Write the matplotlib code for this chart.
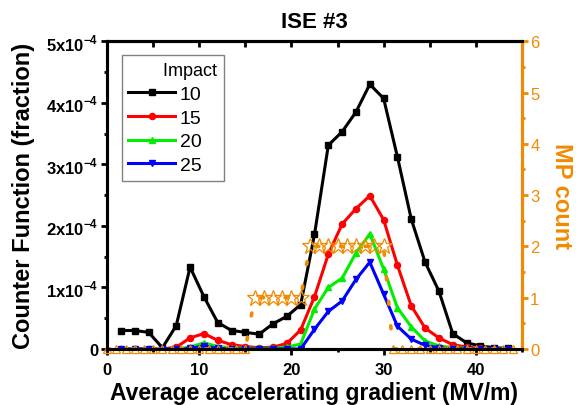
import numpy as np
import matplotlib
matplotlib.use("Agg")
import matplotlib.pyplot as plt
from matplotlib.ticker import MultipleLocator

plt.rcParams['font.family'] = ['Liberation Sans', 'DejaVu Sans']

# gradient (MV/m) for the counter function curves
gradient = [1.5, 3, 4.5, 6, 7.5, 9, 10.5, 12, 13.5, 15, 16.5, 18, 19.5, 21,
            22.5, 24, 25.5, 27, 28.5, 30, 31.5, 33, 34.5, 36, 37.5, 39, 40.5,
            42, 43.5]

# counter function, in units of 1e-4
impact_10 = [0.30, 0.30, 0.27, 0.02, 0.38, 1.33, 0.85, 0.43, 0.30, 0.27, 0.24,
             0.41, 0.53, 0.72, 1.86, 3.31, 3.53, 3.85, 4.30, 4.07, 3.12, 2.11,
             1.41, 0.94, 0.25, 0.10, 0.05, 0.02, 0.01]
impact_15 = [0, 0, 0, 0, 0.03, 0.18, 0.25, 0.14, 0.07, 0.04, 0.02, 0.03, 0.09,
             0.31, 0.85, 1.54, 2.03, 2.28, 2.49, 2.10, 1.36, 0.70, 0.34, 0.18,
             0.07, 0.03, 0.01, 0, 0]
impact_20 = [0, 0, 0, 0, 0, 0.03, 0.10, 0.04, 0.02, 0.01, 0.01, 0.01, 0.03,
             0.08, 0.65, 1.00, 1.15, 1.56, 1.87, 1.30, 0.67, 0.36, 0.13, 0.05,
             0.02, 0.01, 0, 0, 0]
impact_25 = [0, 0, 0, 0, 0, 0.01, 0.05, 0.01, 0, 0, 0, 0, 0, 0.0, 0.32, 0.61,
             0.78, 1.13, 1.41, 0.89, 0.37, 0.16, 0.06, 0.02, 0, 0, 0, 0, 0]

impacts = ['10', '15', '20', '25']

# multipacting count (right axis)
mp_gradient = list(range(0, 45))
mp_count = [0] * 16 + [1] * 6 + [2] * 9 + [0] * 14

yticks = [0, 1, 2, 3, 4, 5]
ytick_labels = ['0'] + ['%dx10$^{\\mathregular{-4}}$' % v for v in yticks[1:]]

orange = '#F08A00'

fig = plt.figure(figsize=(5.76, 4.06), dpi=100)
ax = fig.add_axes([0.186, 0.138, 0.72, 0.758])

styles = [('black', 's', 3.8), ('#FF0000', 'o', 4.4),
          ('#00EE00', '^', 4.8), ('#0000FF', 'v', 4.8)]
for vals, name, (col, mk, ms) in zip([impact_10, impact_15, impact_20, impact_25],
                                     impacts, styles):
    ax.plot(gradient, vals, color=col, marker=mk, markersize=ms, lw=2.2,
            label=name, zorder=3)

ax.set_xlim(0, 45)
ax.set_ylim(0, 5)
ax.xaxis.set_major_locator(MultipleLocator(10))
ax.xaxis.set_minor_locator(MultipleLocator(5))
ax.set_yticks(yticks)
ax.set_yticklabels(ytick_labels)
ax.yaxis.set_minor_locator(MultipleLocator(0.5))
for lab in ax.get_xticklabels() + ax.get_yticklabels():
    lab.set_fontweight('bold')
    lab.set_fontsize(12)
ax.tick_params(which='major', direction='out', length=4, width=2, pad=2)
ax.tick_params(which='minor', direction='out', length=2.5, width=2)
ax.tick_params(axis='x', which='major', pad=5.5)
for s in ax.spines.values():
    s.set_linewidth(2.2)

top = ax.secondary_xaxis('top')
top.xaxis.set_major_locator(MultipleLocator(5))
top.tick_params(direction='in', length=4, width=2, labeltop=False)
top.spines['top'].set_linewidth(2.2)

ax.set_xlabel('Average accelerating gradient (MV/m)', fontsize=16.5,
              fontweight='bold', labelpad=3)
ax.set_ylabel('Counter Function (fraction)', fontsize=17,
              fontweight='bold', labelpad=8)
ax.set_title('ISE #3', fontsize=16, fontweight='bold', pad=10)

leg = ax.legend(title=' ' * 7 + 'Impact', loc='upper left',
                bbox_to_anchor=(0.035, 0.955), borderaxespad=0,
                fontsize=14, title_fontsize=13, handlelength=2.4,
                handletextpad=0.25, labelspacing=0.32, fancybox=False,
                edgecolor='#808080', framealpha=1, borderpad=0.35,
                alignment='left')
leg.get_frame().set_linewidth(1.0)

ax2 = ax.twinx()
ax2.plot(mp_gradient, mp_count, color=orange, lw=2.6, ls=(0, (0.8, 6)),
         dash_capstyle='round', zorder=2)
mp_x = np.array(mp_gradient)
mp_y = np.array(mp_count)
zero = mp_y == 0
ax2.plot(mp_x[zero], mp_y[zero], ls='none', marker='^', markersize=6,
         markerfacecolor='none', markeredgecolor=orange, mew=0.9,
         clip_on=False, zorder=2)
ax2.plot(mp_x[~zero], mp_y[~zero], ls='none', marker='*', markersize=12,
         markerfacecolor='none', markeredgecolor=orange, mew=0.9,
         zorder=2)
ax2.set_ylim(0, 6)
ax2.yaxis.set_major_locator(MultipleLocator(1))
ax2.yaxis.set_minor_locator(MultipleLocator(0.5))
ax2.tick_params(axis='y', which='major', direction='out', length=4, width=2,
                colors=orange, labelsize=12, pad=2)
ax2.tick_params(axis='y', which='minor', direction='out', length=2.5,
                width=2, colors=orange)
for s in ax2.spines.values():
    s.set_linewidth(2.2)
ax2.spines['right'].set_color(orange)
ax2.set_ylabel('MP count', fontsize=17, fontweight='bold', color=orange,
               rotation=270, labelpad=24)

fig.savefig('out.png', dpi=100)
